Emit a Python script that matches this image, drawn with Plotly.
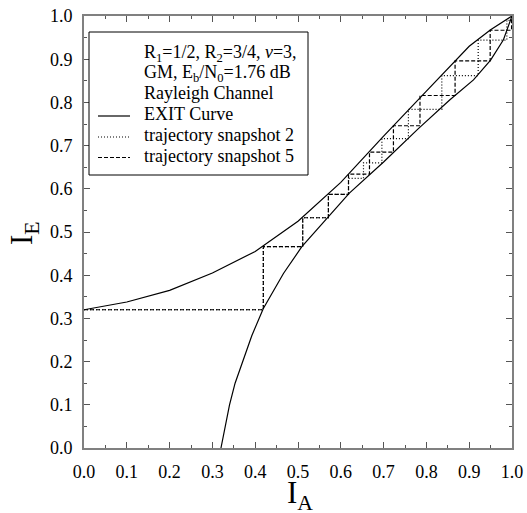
import plotly.graph_objects as go

# Upper EXIT curve (I_E vs I_A)
upper_ia = [0.0, 0.1, 0.2, 0.3, 0.4, 0.5, 0.6, 0.7, 0.8, 0.9, 0.95, 1.0]
upper_ie = [0.320, 0.338, 0.365, 0.405, 0.455, 0.525, 0.615, 0.722, 0.826, 0.930, 0.968, 1.0]

# Lower (inverse) EXIT curve
lower_ia = [0.320, 0.330, 0.340, 0.353, 0.370, 0.392, 0.419, 0.466, 0.509, 0.571, 0.620,
            0.700, 0.780, 0.855, 0.910, 0.950, 0.980, 1.0]
lower_ie = [0.0, 0.05, 0.10, 0.15, 0.20, 0.26, 0.323, 0.404, 0.466, 0.535, 0.590,
            0.662, 0.738, 0.806, 0.852, 0.898, 0.945, 1.0]

# Trajectory snapshot 2 (dotted)
traj2_ia = [0.0, 0.419, 0.419, 0.511, 0.511, 0.571, 0.571, 0.618, 0.618, 0.653, 0.653,
            0.696, 0.696, 0.758, 0.758, 0.836, 0.836, 0.921, 0.921, 0.988, 0.988, 1.0, 1.0]
traj2_ie = [0.320, 0.320, 0.466, 0.466, 0.533, 0.533, 0.587, 0.587, 0.624, 0.624, 0.660,
            0.660, 0.716, 0.716, 0.784, 0.784, 0.862, 0.862, 0.944, 0.944, 0.990, 0.990, 1.0]

# Trajectory snapshot 5 (dashed)
traj5_ia = [0.0, 0.419, 0.419, 0.511, 0.511, 0.571, 0.571, 0.618, 0.618, 0.667, 0.667,
            0.723, 0.723, 0.785, 0.785, 0.867, 0.867, 0.949, 0.949, 0.999, 0.999]
traj5_ie = [0.320, 0.320, 0.466, 0.466, 0.533, 0.533, 0.587, 0.587, 0.634, 0.634, 0.685,
            0.685, 0.746, 0.746, 0.816, 0.816, 0.896, 0.896, 0.967, 0.967, 1.0]

tick_vals = [0.0, 0.1, 0.2, 0.3, 0.4, 0.5, 0.6, 0.7, 0.8, 0.9, 1.0]
tick_text = ["0.0", "0.1", "0.2", "0.3", "0.4", "0.5", "0.6", "0.7", "0.8", "0.9", "1.0"]

x_title = "I<sub>A</sub>"
y_title = "I<sub>E</sub>"

legend_header = ["R<sub>1</sub>=1/2, R<sub>2</sub>=3/4, <i>ν</i>=3,",
                 "GM, E<sub>b</sub>/N<sub>0</sub>=1.76 dB",
                 "Rayleigh Channel"]
legend_names = ["EXIT Curve", "trajectory snapshot 2", "trajectory snapshot 5"]
legend_dashes = ["solid", "1px,2px", "4px,2px"]

FONT = "Liberation Serif, Times New Roman, serif"
LW = 1.2

# plot area in window pixels: x 84..512, y 16..448
PX0, PX1, PY0, PY1 = 84, 512, 16, 448


def px2paper_x(px):
    return (px - PX0) / (PX1 - PX0)


def px2paper_y(py):
    return (PY1 - py) / (PY1 - PY0)


fig = go.Figure()
fig.add_trace(go.Scatter(x=upper_ia, y=upper_ie, mode="lines", name=legend_names[0],
                         line=dict(color="black", width=LW), showlegend=False))
fig.add_trace(go.Scatter(x=lower_ia, y=lower_ie, mode="lines", name=legend_names[0],
                         line=dict(color="black", width=LW), showlegend=False))
fig.add_trace(go.Scatter(x=traj2_ia, y=traj2_ie, mode="lines", name=legend_names[1],
                         line=dict(color="black", width=LW, dash=legend_dashes[1]),
                         showlegend=False))
fig.add_trace(go.Scatter(x=traj5_ia, y=traj5_ie, mode="lines", name=legend_names[2],
                         line=dict(color="black", width=LW, dash=legend_dashes[2]),
                         showlegend=False))

axis_common = dict(
    range=[0, 1], tickvals=tick_vals, ticktext=tick_text,
    showgrid=False, zeroline=False,
    showline=True, linecolor="#808080", linewidth=2, mirror="allticks",
    ticks="inside", ticklen=6, tickcolor="#555555", tickwidth=1,
    minor=dict(dtick=0.05, tick0=0, ticks="inside", ticklen=3, tickcolor="#555555"),
    tickfont=dict(family=FONT, size=18, color="black"),
    ticklabelstandoff=6, ticklabeloverflow="allow",
)

# Manual legend box
shapes = [dict(type="rect", xref="paper", yref="paper", line=dict(color="black", width=1),
               fillcolor="white", layer="above",
               x0=px2paper_x(89), x1=px2paper_x(308), y0=px2paper_y(175), y1=px2paper_y(32))]
annotations = []
text_x = px2paper_x(142)
header_rows = [53.5, 73.5, 92.5]
for txt, row in zip(legend_header, header_rows):
    annotations.append(dict(text=txt, xref="paper", yref="paper", x=text_x,
                            y=px2paper_y(row), xanchor="left", yanchor="middle",
                            showarrow=False, font=dict(family=FONT, size=18, color="black")))
entry_rows = [114, 135, 156]
sample_rows = [116, 137, 157.5]
for name, dash, row, srow in zip(legend_names, legend_dashes, entry_rows, sample_rows):
    shapes.append(dict(type="line", xref="paper", yref="paper", x0=px2paper_x(98),
                       x1=px2paper_x(130), y0=px2paper_y(srow), y1=px2paper_y(srow),
                       layer="above", line=dict(color="black", width=LW, dash=dash)))
    annotations.append(dict(text=name, xref="paper", yref="paper", x=text_x,
                            y=px2paper_y(row), xanchor="left", yanchor="middle",
                            showarrow=False, font=dict(family=FONT, size=18, color="black")))

# Axis titles
annotations.append(dict(text=x_title, xref="paper", yref="paper", x=px2paper_x(300),
                        y=px2paper_y(495), xanchor="center", yanchor="middle",
                        showarrow=False, font=dict(family=FONT, size=31, color="black")))
annotations.append(dict(text=y_title, xref="paper", yref="paper", x=px2paper_x(24),
                        y=px2paper_y(233), xanchor="center", yanchor="middle", textangle=-90,
                        showarrow=False, font=dict(family=FONT, size=31, color="black")))

fig.update_layout(
    width=527, height=513,
    margin=dict(l=84, r=15, t=16, b=65, autoexpand=False),
    paper_bgcolor="white", plot_bgcolor="white",
    font=dict(family=FONT, color="black"),
    showlegend=False,
    xaxis=axis_common,
    yaxis=axis_common,
    shapes=shapes,
    annotations=annotations,
)

fig.write_html("out.html", config={"displayModeBar": False},
               post_script="document.body.style.margin='0px';")
